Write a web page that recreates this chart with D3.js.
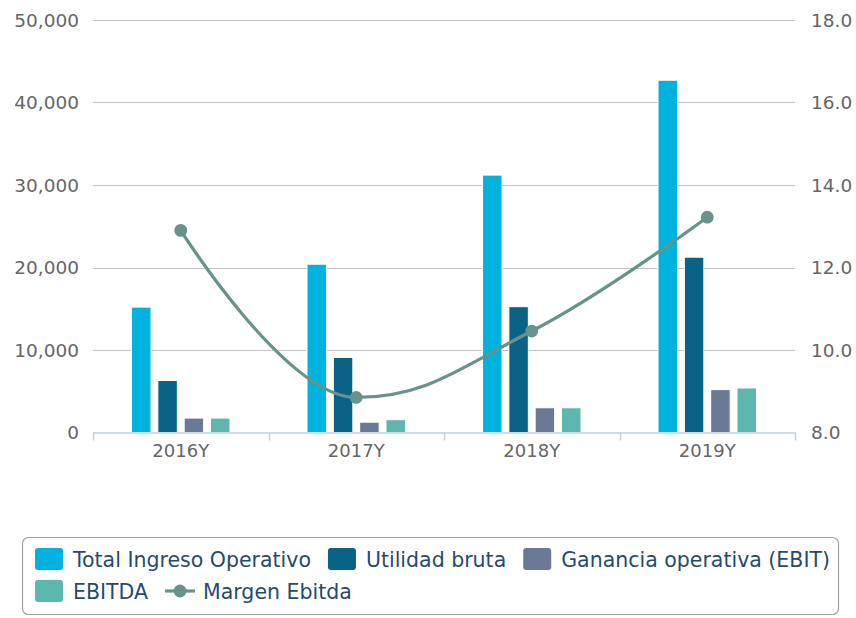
<!DOCTYPE html>
<html>
<head>
<meta charset="utf-8">
<script src="https://cdn.jsdelivr.net/npm/d3@7"></script>
<style>
	body { margin: 0; background: #fff; }
	svg { display: block; font-family: "DejaVu Sans", Verdana, sans-serif; }
</style>
</head>
<body>
<div id="chart"></div>
<script>
(function () {

	'use strict';

	// data
	const categories = ['2016Y', '2017Y', '2018Y', '2019Y'];
	const ingreso = [15200, 20400, 31200, 42700];
	const utilidad = [6300, 9100, 15250, 21250];
	const ebit = [1750, 1250, 3000, 5200];
	const ebitda = [1750, 1550, 3000, 5400];
	const margen = [12.9, 8.85, 10.46, 13.22];

	const leftTicks = [0, 10000, 20000, 30000, 40000, 50000];
	const rightTicks = [8, 10, 12, 14, 16, 18];

	const barSeries = [
		{ name: 'Total Ingreso Operativo', values: ingreso, color: '#00b2de' },
		{ name: 'Utilidad bruta', values: utilidad, color: '#0a6285' },
		{ name: 'Ganancia operativa (EBIT)', values: ebit, color: '#6a7a96' },
		{ name: 'EBITDA', values: ebitda, color: '#5db7ae' }
	];
	const lineSeries = { name: 'Margen Ebitda', values: margen, color: '#68938c' };

	// layout
	const width = 856, height = 618;
	const plot = { left: 93, right: 795, top: 20, bottom: 432.5 };

	const svg = d3.select('#chart').append('svg')
		.attr('width', width)
		.attr('height', height);

	svg.append('rect').attr('width', width).attr('height', height).attr('fill', '#fff');

	// scales
	const x0 = d3.scaleBand().domain(categories).range([plot.left, plot.right]);
	const x1 = d3.scaleBand().domain(barSeries.map(s => s.name))
		.range([x0.bandwidth() * 0.2, x0.bandwidth() * 0.8])
		.paddingInner(0.26).paddingOuter(0.13);
	const yLeft = d3.scaleLinear().domain([0, 50000]).range([plot.bottom, plot.top]);
	const yRight = d3.scaleLinear().domain([8, 18]).range([plot.bottom, plot.top]);

	// grid lines
	svg.append('g')
		.selectAll('line')
		.data(leftTicks.slice(1))
		.join('line')
		.attr('x1', plot.left).attr('x2', plot.right)
		.attr('y1', d => Math.round(yLeft(d)) + 0.5)
		.attr('y2', d => Math.round(yLeft(d)) + 0.5)
		.attr('stroke', '#c4c4c4')
		.attr('stroke-width', 1.2);

	// left axis labels
	const fmt = d3.format(',');
	svg.append('g')
		.selectAll('text')
		.data(leftTicks)
		.join('text')
		.attr('x', plot.left - 14)
		.attr('y', d => yLeft(d))
		.attr('dy', '0.36em')
		.attr('text-anchor', 'end')
		.attr('fill', '#666')
		.style('font-size', '18.5px')
		.text(d => fmt(d));

	// right axis labels
	svg.append('g')
		.selectAll('text')
		.data(rightTicks)
		.join('text')
		.attr('x', plot.right + 16)
		.attr('y', d => yRight(d))
		.attr('dy', '0.36em')
		.attr('text-anchor', 'start')
		.attr('fill', '#666')
		.style('font-size', '18.5px')
		.text(d => d.toFixed(1));

	// bars
	const groups = svg.append('g')
		.selectAll('g')
		.data(categories)
		.join('g')
		.attr('transform', d => 'translate(' + x0(d) + ',0)');

	groups.selectAll('rect')
		.data((d, i) => barSeries.map(s => ({ key: s.name, value: s.values[i], color: s.color })))
		.join('rect')
		.attr('x', d => x1(d.key))
		.attr('width', x1.bandwidth())
		.attr('y', d => yLeft(d.value))
		.attr('height', d => plot.bottom - yLeft(d.value))
		.attr('fill', d => d.color)
		.attr('stroke', '#fff')
		.attr('stroke-width', 1);

	// x axis line, ticks, labels
	const axis = svg.append('g');
	axis.append('line')
		.attr('x1', plot.left).attr('x2', plot.right + 1)
		.attr('y1', plot.bottom + 0.5).attr('y2', plot.bottom + 0.5)
		.attr('stroke', '#c0d0e0')
		.attr('stroke-width', 1.5);

	const tickPos = categories.map(c => x0(c)).concat([plot.right]);
	axis.selectAll('line.tick')
		.data(tickPos)
		.join('line')
		.attr('class', 'tick')
		.attr('x1', d => Math.round(d) + 0.5).attr('x2', d => Math.round(d) + 0.5)
		.attr('y1', plot.bottom).attr('y2', plot.bottom + 8)
		.attr('stroke', '#c0d0e0')
		.attr('stroke-width', 1.5);

	axis.selectAll('text')
		.data(categories)
		.join('text')
		.attr('x', d => x0(d) + x0.bandwidth() / 2)
		.attr('y', 457)
		.attr('text-anchor', 'middle')
		.attr('fill', '#666')
		.style('font-size', '18px')
		.text(d => d);

	// highcharts-like spline: control points with 1.5 smoothing, no overshoot at extremes
	function _spline(pts) {
		let cont = pts.map(() => ({}));
		for (let i = 1; i < pts.length - 1; i++) {
			let p = pts[i], a = pts[i - 1], b = pts[i + 1];
			let lx = (1.5 * p[0] + a[0]) / 2.5, ly = (1.5 * p[1] + a[1]) / 2.5;
			let rx = (1.5 * p[0] + b[0]) / 2.5, ry = (1.5 * p[1] + b[1]) / 2.5;
			let corr = ((ry - ly) * (rx - p[0])) / (rx - lx) + p[1] - ry;
			ly += corr; ry += corr;
			if (ly > a[1] && ly > p[1]) { ly = Math.max(a[1], p[1]); ry = 2 * p[1] - ly; }
			else if (ly < a[1] && ly < p[1]) { ly = Math.min(a[1], p[1]); ry = 2 * p[1] - ly; }
			if (ry > b[1] && ry > p[1]) { ry = Math.max(b[1], p[1]); ly = 2 * p[1] - ry; }
			else if (ry < b[1] && ry < p[1]) { ry = Math.min(b[1], p[1]); ly = 2 * p[1] - ry; }
			cont[i] = { lx: lx, ly: ly, rx: rx, ry: ry };
		}
		let path = 'M ' + pts[0][0] + ' ' + pts[0][1];
		for (let i = 1; i < pts.length; i++) {
			let a = pts[i - 1], p = pts[i];
			let c1x = cont[i - 1].rx !== undefined ? cont[i - 1].rx : a[0];
			let c1y = cont[i - 1].ry !== undefined ? cont[i - 1].ry : a[1];
			let c2x = cont[i].lx !== undefined ? cont[i].lx : p[0];
			let c2y = cont[i].ly !== undefined ? cont[i].ly : p[1];
			path += ' C ' + c1x + ' ' + c1y + ', ' + c2x + ' ' + c2y + ', ' + p[0] + ' ' + p[1];
		}
		return path;
	}

	const linePts = categories.map((c, i) => [x0(c) + x0.bandwidth() / 2, yRight(lineSeries.values[i])]);

	svg.append('path')
		.attr('d', _spline(linePts))
		.attr('fill', 'none')
		.attr('stroke', lineSeries.color)
		.attr('stroke-width', 3.2);

	svg.append('g')
		.selectAll('circle')
		.data(linePts)
		.join('circle')
		.attr('cx', d => d[0])
		.attr('cy', d => d[1])
		.attr('r', 6.4)
		.attr('fill', lineSeries.color);

	// ****************** legend ***************************
	const legendBox = { x: 22, y: 537, w: 816, h: 77 };
	const legend = svg.append('g');
	legend.append('rect')
		.attr('x', legendBox.x + 0.5).attr('y', legendBox.y + 0.5)
		.attr('width', legendBox.w).attr('height', legendBox.h)
		.attr('rx', 6)
		.attr('fill', '#fff')
		.attr('stroke', '#a0a0a0')
		.attr('stroke-width', 1.2);

	const items = barSeries.map(s => ({ name: s.name, color: s.color, type: 'bar' }))
		.concat([{ name: lineSeries.name, color: lineSeries.color, type: 'line' }]);

	let cx = 35, row = 0;
	const rowTop = 548, rowH = 32, maxX = legendBox.x + legendBox.w;
	items.forEach(function (it) {
		let g = legend.append('g');
		let t = g.append('text')
			.attr('fill', '#274b6d')
			.style('font-size', '20.5px')
			.text(it.name);
		let tw = t.node().getComputedTextLength();
		let symW = it.type === 'bar' ? 28 : 30;
		let gap = it.type === 'bar' ? 10 : 8;
		if (cx + symW + gap + tw > maxX) { row++; cx = 35; }
		let top = rowTop + row * rowH;
		if (it.type === 'bar') {
			g.append('rect')
				.attr('x', cx).attr('y', top)
				.attr('width', symW).attr('height', 22)
				.attr('rx', 3)
				.attr('fill', it.color);
		} else {
			g.append('line')
				.attr('x1', cx).attr('x2', cx + symW)
				.attr('y1', top + 11).attr('y2', top + 11)
				.attr('stroke', it.color).attr('stroke-width', 3.2);
			g.append('circle')
				.attr('cx', cx + symW / 2).attr('cy', top + 11)
				.attr('r', 6.4).attr('fill', it.color);
		}
		t.attr('x', cx + symW + gap).attr('y', top + 19);
		cx += symW + gap + tw + 17;
	});

})();
</script>
</body>
</html>
